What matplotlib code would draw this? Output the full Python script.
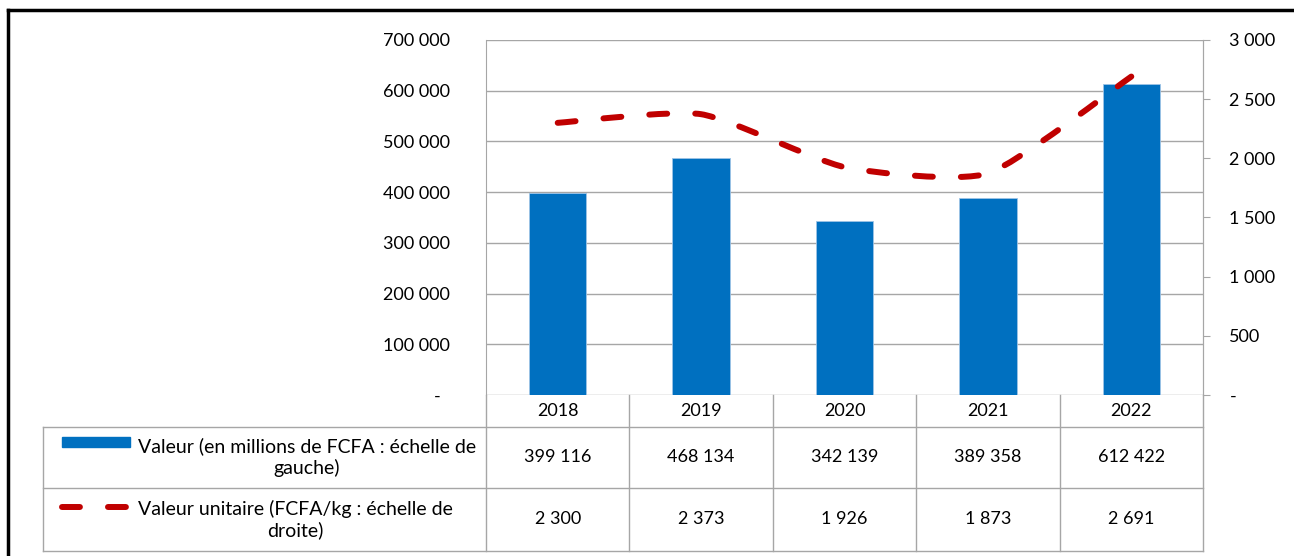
import matplotlib
matplotlib.use('Agg')
import matplotlib.pyplot as plt
from matplotlib.path import Path
from matplotlib.patches import PathPatch, Rectangle
from matplotlib.lines import Line2D
from matplotlib.ticker import FuncFormatter, MultipleLocator

plt.rcParams['font.family'] = ['Lato', 'DejaVu Sans']

years = ['2018', '2019', '2020', '2021', '2022']
valeur = [399116, 468134, 342139, 389358, 612422]        # millions FCFA
valeur_unitaire = [2300, 2373, 1926, 1873, 2691]          # FCFA/kg
label_valeur = 'Valeur (en millions de FCFA : échelle de\ngauche)'
label_unitaire = 'Valeur unitaire (FCFA/kg : échelle de\ndroite)'

BLUE = '#0070C0'
RED = '#C00000'
GRID = '#A6A6A6'
FS = 13

W, H = 1294, 556
fx = lambda px: px / W
fy = lambda py: 1 - py / H


def fmt(v):
    if v == 0:
        return '-'
    return '{:,.0f}'.format(v).replace(',', ' ')


fig = plt.figure(figsize=(W / 100, H / 100), dpi=100)

# main chart
ax = fig.add_axes([fx(486), fy(395), fx(1203) - fx(486), fy(40) - fy(395)])
x = list(range(len(years)))
ax.bar(x, valeur, width=0.4, color=BLUE, edgecolor='#9DC3E6', linewidth=0.6, zorder=2)
ax.set_xlim(-0.5, len(years) - 0.5)
ax.set_ylim(0, 700000)
ax.yaxis.set_major_locator(MultipleLocator(100000))
ax.yaxis.set_major_formatter(FuncFormatter(lambda v, p: fmt(v) + ('  ' if v == 0 else '')))
ax.grid(axis='y', color=GRID, linewidth=1, zorder=0)
ax.set_xticks([])
ax.tick_params(axis='y', length=0, pad=26, labelsize=FS)
for s in ['top', 'bottom']:
    ax.spines[s].set_visible(False)
ax.spines['left'].set_color(GRID)
ax.spines['right'].set_color(GRID)

ax2 = ax.twinx()
ax2.set_ylim(0, 3000)
ax2.yaxis.set_major_locator(MultipleLocator(500))
ax2.yaxis.set_major_formatter(FuncFormatter(lambda v, p: fmt(v)))
ax2.tick_params(axis='y', length=5, color=GRID, pad=14, labelsize=FS)
for s in ['top', 'bottom', 'left']:
    ax2.spines[s].set_visible(False)
ax2.spines['right'].set_color(GRID)

# smoothed line through the data points (cubic Bezier, mild tension)
k = 0.1
pts = list(zip(x, valeur_unitaire))
verts = [pts[0]]
codes = [Path.MOVETO]
n = len(pts)
for i in range(n - 1):
    p0 = pts[i - 1] if i > 0 else pts[i]
    p1 = pts[i]
    p2 = pts[i + 1]
    p3 = pts[i + 2] if i + 2 < n else pts[i + 1]
    c1 = (p1[0] + (p2[0] - p0[0]) * k, p1[1] + (p2[1] - p0[1]) * k)
    c2 = (p2[0] - (p3[0] - p1[0]) * k, p2[1] - (p3[1] - p1[1]) * k)
    verts += [c1, c2, p2]
    codes += [Path.CURVE4] * 3
ax2.add_patch(PathPatch(Path(verts, codes), fill=False, edgecolor=RED, linewidth=4.3,
                        linestyle=(0, (3, 4.7)), capstyle='round', zorder=3))

# data table under the chart (pixel coordinates, y downward)
tab = fig.add_axes([fx(43), fy(551), fx(1203) - fx(43), fy(395) - fy(551)])
tab.set_xlim(43, 1203)
tab.set_ylim(551, 395)
tab.axis('off')
ncol = len(years)
edges = [486 + i * (1203 - 486) / ncol for i in range(ncol + 1)]
rows = [395, 427, 488, 551]
lk = dict(color=GRID, linewidth=1, clip_on=False)
for e in edges:
    tab.plot([e, e], [395, 551], **lk)
tab.plot([43, 43], [427, 551], **lk)
for r in rows[1:]:
    tab.plot([43, 1203], [r, r], **lk)

for i, yr in enumerate(years):
    cx = (edges[i] + edges[i + 1]) / 2
    tab.text(cx, (rows[0] + rows[1]) / 2, yr, ha='center', va='center', fontsize=FS)
    tab.text(cx, (rows[1] + rows[2]) / 2, fmt(valeur[i]), ha='center', va='center', fontsize=FS)
    tab.text(cx, (rows[2] + rows[3]) / 2, fmt(valeur_unitaire[i]), ha='center', va='center', fontsize=FS)

tab.add_patch(Rectangle((62, 437), 68, 10, color=BLUE, clip_on=False))
tab.add_line(Line2D([62, 130], [507, 507], color=RED, linewidth=4.3,
                    linestyle=(0, (3, 4.7)), dash_capstyle='round', clip_on=False))
tab.text(138, (rows[1] + rows[2]) / 2, label_valeur, ha='left', va='center',
         multialignment='center', fontsize=14, linespacing=1.25)
tab.text(138, (rows[2] + rows[3]) / 2, label_unitaire, ha='left', va='center',
         multialignment='center', fontsize=14, linespacing=1.25)

# outer frame (partially visible)
fig.add_artist(Line2D([fx(8), fx(8)], [fy(10), 0], color='black', linewidth=2.5))
fig.add_artist(Line2D([fx(8), 1], [fy(10), fy(10)], color='black', linewidth=2.5))

fig.savefig('out.png', dpi=100)
